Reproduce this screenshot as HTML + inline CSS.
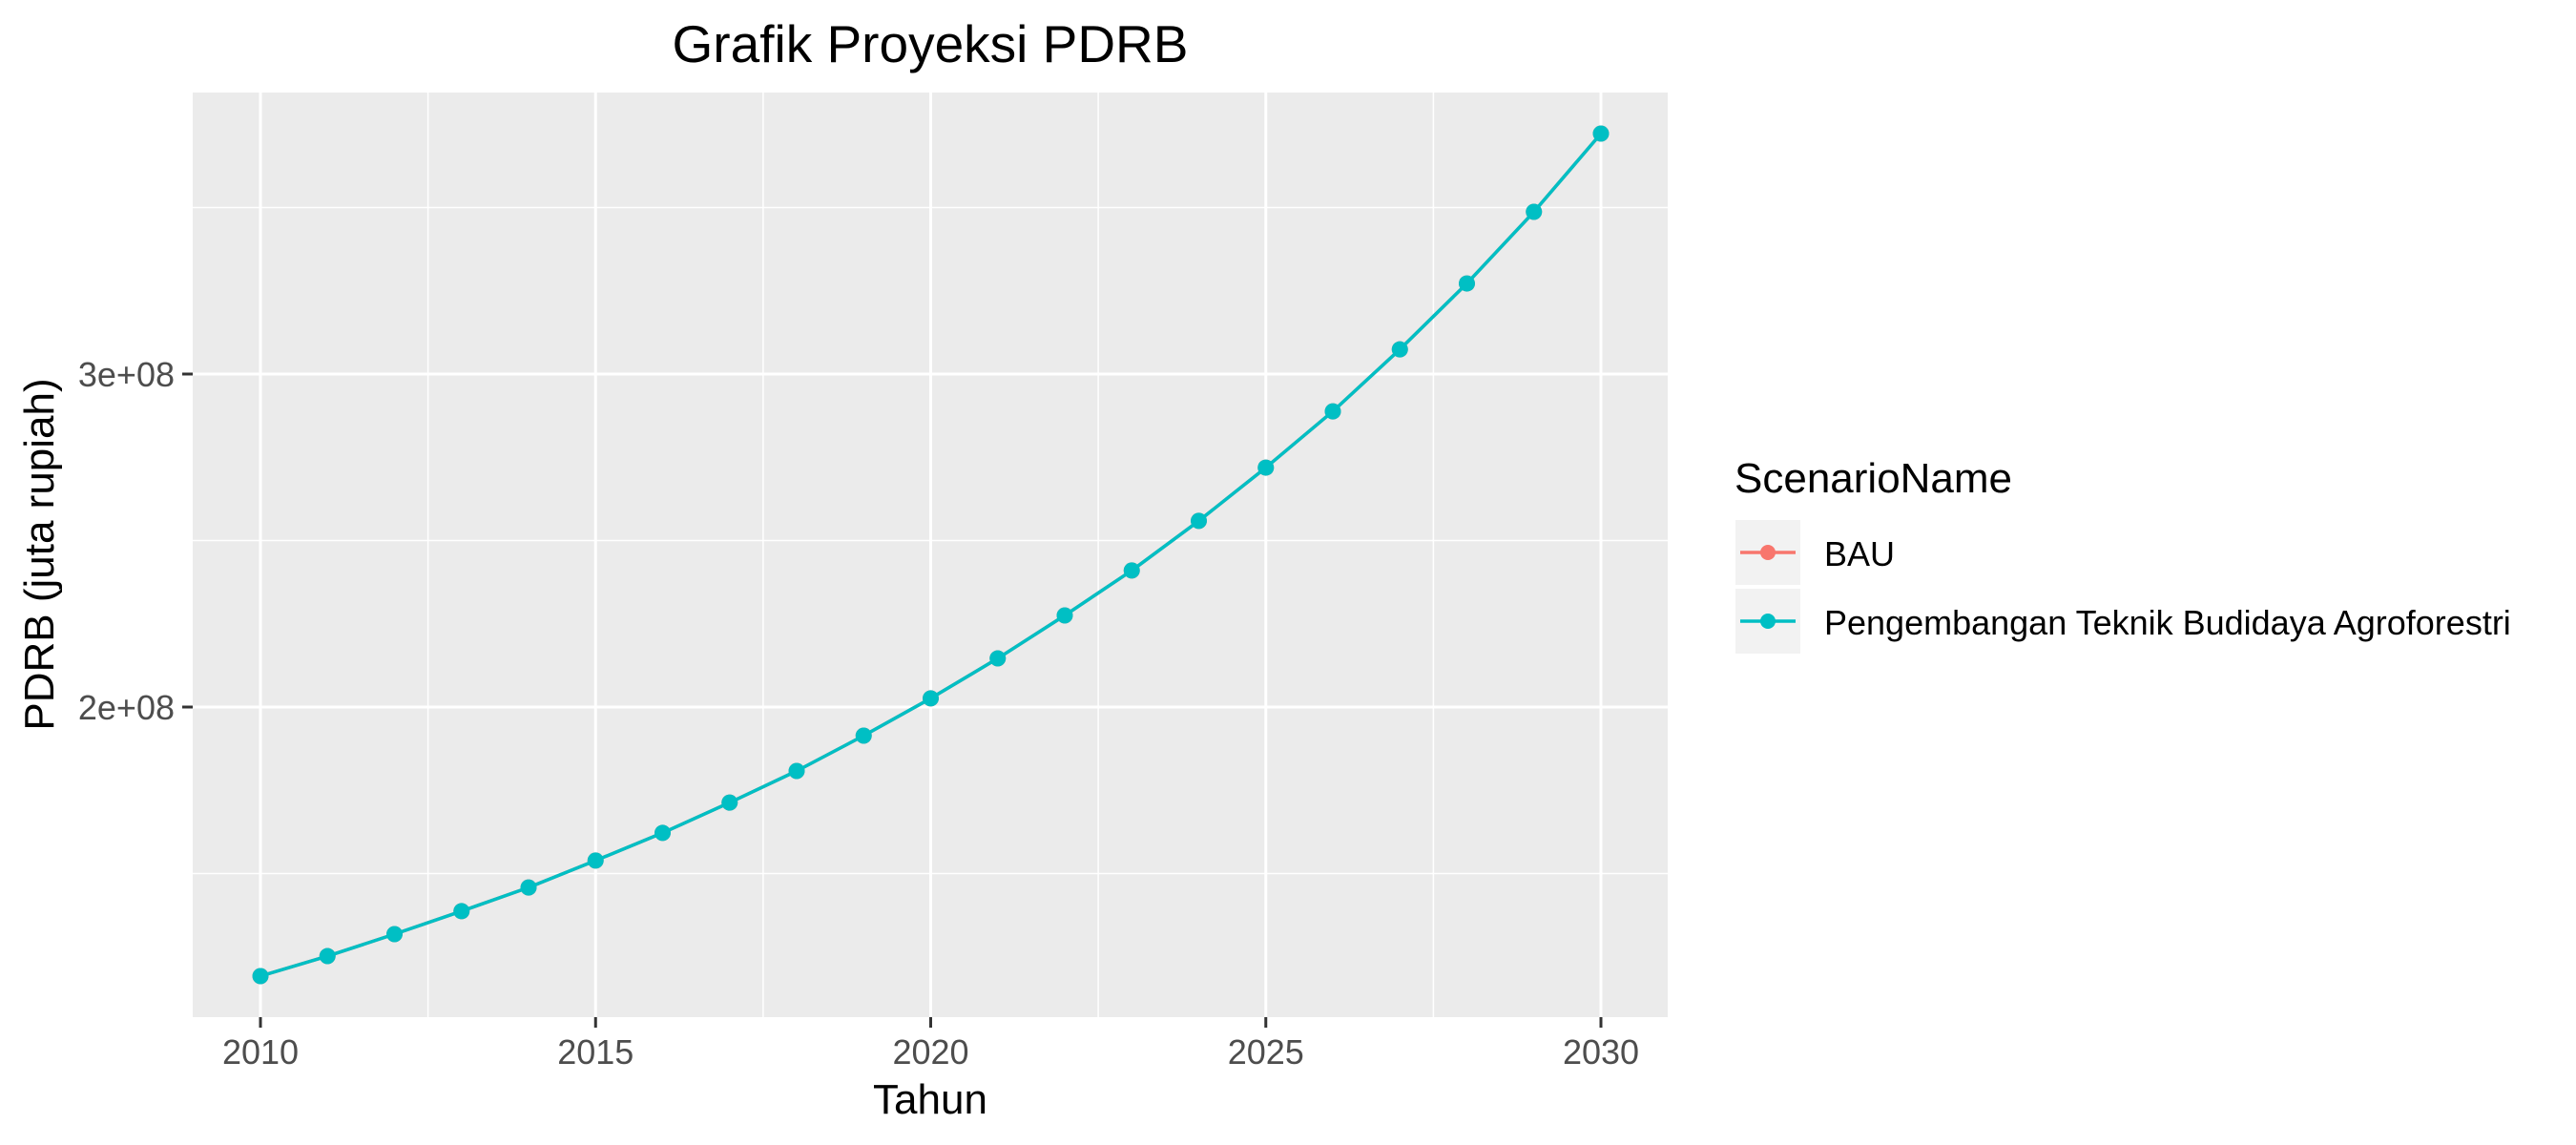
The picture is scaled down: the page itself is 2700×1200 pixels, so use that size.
<!DOCTYPE html>
<html><head><meta charset="utf-8"><style>
html,body{margin:0;padding:0;background:#fff;}
svg{display:block;font-family:"Liberation Sans",Arial,sans-serif;}
</style></head><body>
<svg id="chart" width="2700" height="1200" viewBox="0 0 2700 1200">
<text x="975" y="65" text-anchor="middle" font-size="55" fill="#000">Grafik Proyeksi PDRB</text>
<rect x="202" y="97" width="1546" height="969" fill="#ebebeb"/>
<g id="grid"></g>
<g id="series"></g>
<g id="axes"></g>
<text x="975" y="1167" text-anchor="middle" font-size="44" fill="#000">Tahun</text>
<text transform="translate(56,581) rotate(-90)" text-anchor="middle" font-size="44" fill="#000">PDRB (juta rupiah)</text>
<g>
<text x="1818" y="516" font-size="44" fill="#000">ScenarioName</text>
<g>
<rect x="1819" y="545" width="68" height="68" fill="#f2f2f2"/>
<line x1="1824" y1="579" x2="1882" y2="579" stroke="#F8766D" stroke-width="3.5"/>
<circle cx="1853" cy="579" r="8" fill="#F8766D"/>
<text x="1912" y="593" font-size="36" fill="#000">BAU</text>
</g>
<g>
<rect x="1819" y="617" width="68" height="68" fill="#f2f2f2"/>
<line x1="1824" y1="651" x2="1882" y2="651" stroke="#00BFC4" stroke-width="3.5"/>
<circle cx="1853" cy="651" r="8" fill="#00BFC4"/>
<text x="1912" y="665" font-size="36" fill="#000">Pengembangan Teknik Budidaya Agroforestri</text>
</g>
</g>
</svg>
<script>
const years = [2010,2011,2012,2013,2014,2015,2016,2017,2018,2019,2020,2021,2022,2023,2024,2025,2026,2027,2028,2029,2030];
const bauValues = [1.192e8,1.252e8,1.318e8,1.387e8,1.458e8,1.539e8,1.622e8,1.713e8,1.808e8,1.914e8,2.026e8,2.146e8,2.275e8,2.410e8,2.559e8,2.719e8,2.888e8,3.074e8,3.272e8,3.487e8,3.722e8];
const agroValues = [1.192e8,1.252e8,1.318e8,1.387e8,1.458e8,1.539e8,1.622e8,1.713e8,1.808e8,1.914e8,2.026e8,2.146e8,2.275e8,2.410e8,2.559e8,2.719e8,2.888e8,3.074e8,3.272e8,3.487e8,3.722e8];
const xTicks = [2010,2015,2020,2025,2030];
const xMinor = [2012.5,2017.5,2022.5,2027.5];
const yTicks = [2e8,3e8];
const yTickLabels = ["2e+08","3e+08"];
const yMinor = [1.5e8,2.5e8,3.5e8];

const NS="http://www.w3.org/2000/svg";
const PL=202,PR=1748,PT=97,PB=1066;
function xs(v){return 273+(v-2010)*(1678-273)/20;}
function ys(v){return 741-(v-2e8)*(741-392)/1e8;}
function mk(tag,attrs,parent){const e=document.createElementNS(NS,tag);for(const k in attrs)e.setAttribute(k,attrs[k]);parent.appendChild(e);return e;}
const grid=document.getElementById('grid'),axes=document.getElementById('axes'),ser=document.getElementById('series');
yMinor.forEach(v=>{const l=mk('line',{x1:PL,x2:PR,y1:ys(v),y2:ys(v),stroke:'#fff','stroke-width':1.5},grid);

});
xMinor.forEach(v=>{const l=mk('line',{x1:xs(v),x2:xs(v),y1:PT,y2:PB,stroke:'#fff','stroke-width':1.5},grid);

});
yTicks.forEach((v,i)=>{const l=mk('line',{x1:PL,x2:PR,y1:ys(v),y2:ys(v),stroke:'#fff','stroke-width':3},grid);


const t=mk('line',{x1:191,x2:PL,y1:ys(v),y2:ys(v),stroke:'#333','stroke-width':3},axes);


const tx=mk('text',{x:183,y:ys(v)+13,'text-anchor':'end','font-size':36,fill:'#4d4d4d'},axes);tx.textContent=yTickLabels[i];

});
xTicks.forEach(v=>{const l=mk('line',{x1:xs(v),x2:xs(v),y1:PT,y2:PB,stroke:'#fff','stroke-width':3},grid);


const t=mk('line',{x1:xs(v),x2:xs(v),y1:PB,y2:PB+11,stroke:'#333','stroke-width':3},axes);


const tx=mk('text',{x:xs(v),y:1115,'text-anchor':'middle','font-size':36,fill:'#4d4d4d'},axes);tx.textContent=String(v);

});
function drawSeries(vals,color,name){
const g=mk('g',{},ser);


const p=mk('polyline',{points:vals.map((v,i)=>xs(years[i])+','+ys(v)).join(' '),fill:'none',stroke:color,'stroke-width':3.5,'stroke-linejoin':'round'},g);


vals.forEach((v,i)=>{const c=mk('circle',{cx:xs(years[i]),cy:ys(v),r:8.5,fill:color},g);

});}
drawSeries(bauValues,'#F8766D','series-bau');
drawSeries(agroValues,'#00BFC4','series-agroforestri');
</script>
</body></html>
